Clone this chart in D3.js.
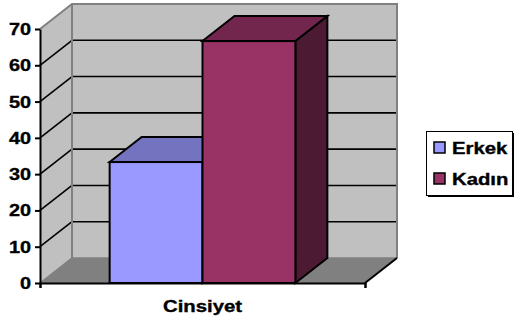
<!DOCTYPE html>
<html>
<head>
<meta charset="utf-8">
<script src="https://cdn.jsdelivr.net/npm/d3@7"></script>
<style>
  html, body { margin: 0; padding: 0; background: #fff; }
  svg { display: block; font-family: "Liberation Sans", Arial, sans-serif; }
</style>
</head>
<body>
<svg id="chart" width="515" height="322"></svg>
<script>
// Chart data
const categories = ["Cinsiyet"];
const seriesNames = ["Erkek", "Kadın"];
const seriesValues = [33.33, 66.67];
const yTickValues = [0, 10, 20, 30, 40, 50, 60, 70];

// Series colours: front face, top face, side face
const frontColors = ["#9999ff", "#993366"];
const topColors = ["#7373bf", "#73264d"];
const sideColors = ["#4d4d80", "#4d1a33"];

const svg = d3.select("#chart");

// Front plane of the 3D box and depth offset
const plot = { left: 40, right: 365, top: 29, bottom: 283 };
const depth = { dx: 32, dy: -25 };

const y = d3.scaleLinear().domain([0, 70]).range([plot.bottom, plot.top]);
const x0 = d3.scaleBand().domain(categories).range([plot.left, plot.right]);
const x1 = d3.scaleBand().domain(seriesNames).range([0, x0.bandwidth()])
  .paddingInner(0).paddingOuter(0.75);

const pts = a => a.map(p => p.join(",")).join(" ");
const back = (px, py) => [px + depth.dx, py + depth.dy];

const yMax = y(70), y0 = y(0);

// Bold text helper: slightly wide, heavy lettering
function styleLabel(sel, size) {
  return sel
    .attr("fill", "#000")
    .attr("stroke", "#000")
    .attr("stroke-width", 0.35)
    .style("font-family", "'Liberation Sans', Arial, sans-serif")
    .style("font-size", size + "px")
    .style("font-weight", "bold");
}

// Side wall (left)
svg.append("polygon")
  .attr("points", pts([[plot.left, yMax], back(plot.left, yMax), back(plot.left, y0), [plot.left, y0]]))
  .attr("fill", "#c0c0c0");

// Back wall
svg.append("polygon")
  .attr("points", pts([back(plot.left, yMax), back(plot.right, yMax), back(plot.right, y0), back(plot.left, y0)]))
  .attr("fill", "#c0c0c0");

// Floor
svg.append("polygon")
  .attr("points", pts([[plot.left, y0], [plot.right, y0], back(plot.right, y0), back(plot.left, y0)]))
  .attr("fill", "#808080");

// Gridlines on side and back walls
const grid = yTickValues.filter(v => v > 0 && v < 70);
const gridG = svg.append("g").attr("stroke", "#000").attr("stroke-width", 1.6).attr("fill", "none");
grid.forEach(v => {
  const yy = y(v);
  const b = back(plot.left, yy);
  gridG.append("line").attr("x1", plot.left).attr("y1", yy).attr("x2", b[0]).attr("y2", b[1]);
  gridG.append("line").attr("x1", b[0]).attr("y1", b[1]).attr("x2", back(plot.right, yy)[0]).attr("y2", b[1]);
});

// Wall edges
const edgeG = svg.append("g").attr("stroke", "#808080").attr("stroke-width", 2).attr("fill", "none");
edgeG.append("polyline")
  .attr("points", pts([[plot.left, yMax], back(plot.left, yMax), back(plot.right, yMax), back(plot.right, y0)]));
edgeG.append("line")
  .attr("x1", back(plot.left, yMax)[0]).attr("y1", back(plot.left, yMax)[1])
  .attr("x2", back(plot.left, y0)[0]).attr("y2", back(plot.left, y0)[1]);
edgeG.append("polyline")
  .attr("points", pts([[plot.left, y0], back(plot.left, y0), back(plot.right, y0)]))
  .attr("stroke-width", 1.5);

// Floor right edge
svg.append("line")
  .attr("x1", plot.right).attr("y1", y0)
  .attr("x2", back(plot.right, y0)[0]).attr("y2", back(plot.right, y0)[1])
  .attr("stroke", "#000").attr("stroke-width", 2);

// 3D bars
const barG = svg.append("g").attr("stroke", "#000").attr("stroke-width", 2).attr("stroke-linejoin", "miter");
categories.forEach(cat => {
  seriesNames.forEach((name, i) => {
    const xl = x0(cat) + x1(name);
    const xr = xl + x1.bandwidth();
    const yt = y(seriesValues[i]);
    const yb = y(0);
    // side face
    barG.append("polygon")
      .attr("points", pts([[xr, yt], back(xr, yt), back(xr, yb), [xr, yb]]))
      .attr("fill", sideColors[i]);
    // top face
    barG.append("polygon")
      .attr("points", pts([[xl, yt], back(xl, yt), back(xr, yt), [xr, yt]]))
      .attr("fill", topColors[i]);
    // front face
    barG.append("rect")
      .attr("x", xl).attr("y", yt)
      .attr("width", xr - xl).attr("height", yb - yt)
      .attr("fill", frontColors[i]);
  });
});

// Value axis
const yAxis = svg.append("g")
  .attr("transform", `translate(${plot.left},0)`)
  .call(d3.axisLeft(y).tickValues(yTickValues).tickSize(5).tickSizeOuter(0).tickPadding(0));
yAxis.select(".domain").attr("stroke", "#000").attr("stroke-width", 2);
yAxis.selectAll(".tick line").attr("stroke", "#000").attr("stroke-width", 2);
styleLabel(yAxis.selectAll(".tick text"), 17)
  .attr("x", 0)
  .attr("dy", "0.32em")
  .attr("transform", "translate(-9,0) scale(1.17,1)");

// Category axis
const xAxis = svg.append("g")
  .attr("transform", `translate(0,${y0})`)
  .call(d3.axisBottom(d3.scaleLinear().domain([0, 1]).range([plot.left, plot.right]))
    .tickValues([0, 1]).tickSize(5).tickFormat(""));
xAxis.select(".domain").attr("stroke", "#000").attr("stroke-width", 2);
xAxis.selectAll(".tick line").attr("stroke", "#000").attr("stroke-width", 2);

styleLabel(svg.append("g")
  .selectAll("text")
  .data(categories)
  .join("text"), 16)
  .attr("transform", d => `translate(${x0(d) + x0.bandwidth() / 2},312) scale(1.27,1)`)
  .attr("text-anchor", "middle")
  .text(d => d);

// Legend
const legend = svg.append("g");
legend.append("rect")
  .attr("x", 428).attr("y", 133).attr("width", 86).attr("height", 64)
  .attr("fill", "#000");
legend.append("rect")
  .attr("x", 426.5).attr("y", 131.5).attr("width", 86).attr("height", 64)
  .attr("fill", "#fff").attr("stroke", "#000").attr("stroke-width", 1);
seriesNames.forEach((name, i) => {
  const ly = 142 + i * 31;
  legend.append("rect")
    .attr("x", 434).attr("y", ly).attr("width", 11).attr("height", 11)
    .attr("fill", frontColors[i]).attr("stroke", "#000").attr("stroke-width", 1.5);
  styleLabel(legend.append("text"), 16)
    .attr("transform", `translate(452,${ly + 12}) scale(1.27,1)`)
    .text(name);
});
</script>
</body>
</html>
